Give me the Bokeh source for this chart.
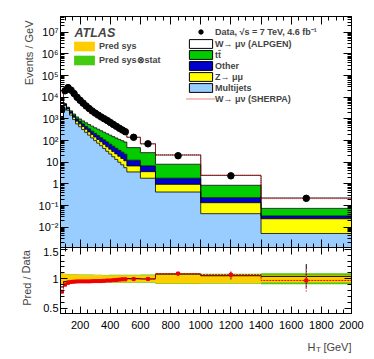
from bokeh.plotting import figure
from bokeh.layouts import column, row
from bokeh.models import (Range1d, FixedTicker, CustomJSTickFormatter, LogAxis, LinearAxis,
                          Label, Legend, LegendItem, ColumnDataSource)
from bokeh.embed import file_html
from bokeh.resources import INLINE

# ---------------- data (Events / GeV) ----------------
ht_edges = [70, 90, 110, 130, 150, 170, 190, 210, 230, 250, 270, 290, 310, 330, 350,
            370, 390, 410, 430, 450, 470, 490, 510, 600, 700, 1000, 1400, 2000]
data = [2800, 20000, 28000, 21400, 14800, 10000, 7250, 5370, 3980, 3020, 2340, 1860, 1510,
        1230, 1020, 850, 690, 560, 457, 372, 309, 257, 142, 71, 20, 2.35, 0.215]
multijet = [1000, 4170, 2510, 1510, 933, 589, 437, 324, 240, 178, 132, 100, 76, 58, 43, 32,
            24, 18, 13.5, 10, 7.6, 5.6, 3.55, 1.82, 0.42, 0.042, 0.0051]
zmumu = [150, 420, 400, 330, 260, 200, 155, 120, 94, 74, 58, 46, 37, 30, 24, 19.5, 16, 13,
         10.8, 8.9, 7.4, 6.1, 3.2, 1.85, 0.53, 0.093, 0.0194]
other = [120, 330, 340, 300, 250, 205, 170, 140, 117, 98, 82, 68, 57, 48, 40, 34, 28, 23.5,
         19.5, 16.5, 14, 11.8, 5.6, 3.08, 0.87, 0.095, 0.0082]
ttbar = [30, 120, 200, 230, 240, 240, 235, 225, 215, 205, 192, 178, 165, 150, 136, 122, 110,
         98, 88, 78, 70, 62, 35, 21, 6.25, 0.63, 0.041]
w_alpgen = [1110, 13960, 23430, 18170, 12600, 8420, 6000, 4370, 3175, 2360, 1795, 1400, 1120,
            900, 746, 617, 495, 396, 318, 255, 207, 171, 95, 43, 13.5, 1.61, 0.15]
w_sherpa = [884, 12960, 22590, 17850, 12380, 8316, 5927, 4319, 3135, 2329, 1778, 1394, 1115,
            895, 741, 617, 491, 393, 316, 253, 207, 169, 94, 43, 13.7, 1.65, 0.135]
sys_unc = [0.09, 0.08, 0.075, 0.07, 0.07, 0.07, 0.068, 0.068, 0.065, 0.065, 0.065, 0.062,
           0.062, 0.062, 0.06, 0.06, 0.06, 0.06, 0.06, 0.06, 0.06, 0.06, 0.06, 0.06, 0.08,
           0.075, 0.065]
tot_unc = [0.095, 0.085, 0.08, 0.075, 0.075, 0.075, 0.073, 0.073, 0.07, 0.07, 0.07, 0.067,
           0.067, 0.067, 0.065, 0.065, 0.066, 0.066, 0.067, 0.067, 0.068, 0.068, 0.068, 0.07,
           0.088, 0.085, 0.095]
data_stat_rel = [0.005, 0.002, 0.002, 0.002, 0.002, 0.003, 0.003, 0.004, 0.004, 0.005, 0.005,
                 0.006, 0.007, 0.008, 0.008, 0.009, 0.01, 0.011, 0.012, 0.013, 0.015, 0.016,
                 0.012, 0.016, 0.024, 0.06, 0.2]

x_major = [200, 400, 600, 800, 1000, 1200, 1400, 1600, 1800, 2000]
y_major = [1e-2, 1e-1, 1, 10, 100, 1e3, 1e4, 1e5, 1e6, 1e7]
r_major = [0.5, 1, 1.5]

FONT = "Liberation Sans"
C_MJ, C_Z, C_OTH, C_TT, C_W = "#99ccff", "#ffff00", "#0000cc", "#00cc00", "#ffffff"
C_SYS, C_TOT = "#ffcc00", "#44cc11"

n = len(data)
centers = [(ht_edges[i] + ht_edges[i + 1]) / 2 for i in range(n)]
b1 = list(multijet)
b2 = [a + b for a, b in zip(b1, zmumu)]
b3 = [a + b for a, b in zip(b2, other)]
b4 = [a + b for a, b in zip(b3, ttbar)]
b5 = [a + b for a, b in zip(b4, w_alpgen)]
sh = [a + b for a, b in zip(b4, w_sherpa)]
ratio_a = [p / d for p, d in zip(b5, data)]
ratio_s = [p / d for p, d in zip(sh, data)]


def ext(a):
    return list(a) + [a[-1]]


x_range = Range1d(70, 2000)
x_minor = list(range(50, 2050, 50))
y_minor = [m * 10.0 ** k for k in range(-4, 8) for m in range(2, 10)]
r_minor = [round(0.4 + 0.1 * i, 2) for i in range(13)]

blank = CustomJSTickFormatter(code="return '';")
logfmt = CustomJSTickFormatter(code="""
const e = Math.round(Math.log10(tick));
if (e == 0) return "1";
if (e == 1) return "10";
const sup = {"-":"\u207b","0":"\u2070","1":"\u00b9","2":"\u00b2","3":"\u00b3","4":"\u2074",
             "5":"\u2075","6":"\u2076","7":"\u2077","8":"\u2078","9":"\u2079"};
return "10" + String(e).split("").map(c => sup[c]).join("");
""")
numfmt = CustomJSTickFormatter(code="return String(tick);")


def style_axis(ax, maj=8, mnr=4, labels=True):
    ax.major_tick_in = maj
    ax.major_tick_out = 0
    ax.minor_tick_in = mnr
    ax.minor_tick_out = 0
    ax.axis_line_color = "black"
    ax.major_tick_line_color = "black"
    ax.minor_tick_line_color = "black"
    if labels:
        ax.major_label_text_font = FONT
        ax.major_label_text_font_size = "11px"
        ax.major_label_text_color = "black"
        ax.major_label_standoff = 2
    else:
        ax.major_label_text_font_size = "0px"
        ax.major_label_standoff = 0


PL = 34          # width of the strip holding the vertical axis titles
LB = 60 - PL     # left border of the panels (tick labels)
# ---------------- main panel ----------------
p1 = figure(x_range=x_range, y_range=Range1d(1.15e-3, 5.4e7), y_axis_type="log",
            frame_width=291, frame_height=231, min_border_left=LB, min_border_right=15,
            min_border_top=16, min_border_bottom=0, output_backend="svg",
            toolbar_location=None, outline_line_color="black")
p1.grid.visible = False

floor = [1e-5] * (n + 1)
p1.varea_step(x=ht_edges, y1=floor, y2=ext(b1), step_mode="after", fill_color=C_MJ)
p1.varea_step(x=ht_edges, y1=ext(b1), y2=ext(b2), step_mode="after", fill_color=C_Z)
p1.varea_step(x=ht_edges, y1=ext(b2), y2=ext(b3), step_mode="after", fill_color=C_OTH)
p1.varea_step(x=ht_edges, y1=ext(b3), y2=ext(b4), step_mode="after", fill_color=C_TT)
p1.varea_step(x=ht_edges, y1=ext(b4), y2=ext(b5), step_mode="after", fill_color=C_W)
for b in (b1, b2, b3, b4, b5):
    p1.step(x=ht_edges, y=ext(b), mode="after", line_color="black", line_width=0.8)
r_sh = p1.step(x=[ht_edges[0]] + ht_edges, y=[floor[0]] + ext(sh), mode="after",
               line_color="#dd0000", line_width=1, line_dash="1 1")
r_data = p1.scatter(x=centers, y=data, size=6.5, fill_color="black", line_color="black")

p1.yaxis.ticker = FixedTicker(ticks=y_major, minor_ticks=y_minor)
p1.yaxis.formatter = logfmt
style_axis(p1.yaxis[0])
p1.xaxis.ticker = FixedTicker(ticks=x_major, minor_ticks=x_minor)
p1.xaxis.formatter = blank
style_axis(p1.xaxis[0], labels=False)
ra = LogAxis(ticker=FixedTicker(ticks=y_major, minor_ticks=y_minor), formatter=blank)
style_axis(ra, labels=False)
p1.add_layout(ra, "right")
ta = LinearAxis(ticker=FixedTicker(ticks=x_major, minor_ticks=x_minor), formatter=blank)
style_axis(ta, labels=False)
p1.add_layout(ta, "above")

nan = float("nan")
dummy = ColumnDataSource(dict(left=[nan], right=[nan], top=[nan], bottom=[nan]))


def swatch(fig, color, line="black"):
    return fig.quad(left="left", right="right", top="top", bottom="bottom", source=dummy,
                    fill_color=color, line_color=line, line_width=1)


sw_w = swatch(p1, C_W)
sw_tt = swatch(p1, C_TT)
sw_oth = swatch(p1, C_OTH)
sw_z = swatch(p1, C_Z)
sw_mj = swatch(p1, C_MJ)
sw_sys = swatch(p1, C_SYS, None)
sw_tot = swatch(p1, C_TOT, None)

leg_r = Legend(items=[
    LegendItem(label="Data, \u221as = 7 TeV, 4.6 fb\u207b\u00b9", renderers=[r_data]),
    LegendItem(label="W\u2192 \u03bc\u03bd (ALPGEN)", renderers=[sw_w]),
    LegendItem(label="tt\u0304", renderers=[sw_tt]),
    LegendItem(label="Other", renderers=[sw_oth]),
    LegendItem(label="Z\u2192 \u03bc\u03bc", renderers=[sw_z]),
    LegendItem(label="Multijets", renderers=[sw_mj]),
    LegendItem(label="W\u2192 \u03bc\u03bd (SHERPA)", renderers=[r_sh]),
], location=(126, 143))
leg_l = Legend(items=[
    LegendItem(label="Pred sys", renderers=[sw_sys]),
    LegendItem(label="Pred sys\u2297stat", renderers=[sw_tot]),
], location=(11, 181))
for lg, gw, gh, sp, so in ((leg_r, 29, 11, 0, 0), (leg_l, 26, 12, 2, 2)):
    lg.background_fill_alpha = 0
    lg.border_line_color = None
    lg.padding = 0
    lg.margin = 0
    lg.spacing = sp
    lg.glyph_width = gw
    lg.glyph_height = gh
    lg.label_height = gh
    lg.label_standoff = so
    lg.label_text_font = FONT
    lg.label_text_font_style = "bold"
    lg.label_text_font_size = "9px"
    lg.label_text_baseline = "middle"
    p1.add_layout(lg)

p1.add_layout(Label(x=14, y=215, x_units="screen", y_units="screen", text="ATLAS",
                    text_font=FONT, text_font_style="bold italic", text_font_size="12.5px",
                    text_baseline="middle"))

# ---------------- ratio panel ----------------
p2 = figure(x_range=x_range, y_range=Range1d(0.41, 1.53),
            frame_width=291, frame_height=66, min_border_left=LB, min_border_right=15,
            min_border_top=0, min_border_bottom=22, output_backend="svg",
            toolbar_location=None, outline_line_color="black")
p2.grid.visible = False
p2.varea_step(x=ht_edges, y1=ext([1 - t for t in tot_unc]), y2=ext([1 + t for t in tot_unc]),
              step_mode="after", fill_color=C_TOT)
p2.varea_step(x=ht_edges, y1=ext([1 - s for s in sys_unc]), y2=ext([1 + s for s in sys_unc]),
              step_mode="after", fill_color=C_SYS)
p2.step(x=ht_edges, y=ext(ratio_a), mode="after", line_color="black", line_width=1)
p2.segment(x0=centers, x1=centers, y0=[r * (1 - e) for r, e in zip(ratio_a, data_stat_rel)],
           y1=[r * (1 + e) for r, e in zip(ratio_a, data_stat_rel)], line_color="black",
           line_width=1)
p2.step(x=ht_edges, y=ext(ratio_s), mode="after", line_color="#ee0000", line_width=1,
        line_dash="2 1")
p2.segment(x0=centers, x1=centers, y0=[r * (1 - e) for r, e in zip(ratio_s, data_stat_rel)],
           y1=[r * (1 + e) for r, e in zip(ratio_s, data_stat_rel)], line_color="#ff6666",
           line_width=1, line_dash="2 1")
p2.scatter(x=centers, y=ratio_s, marker="square", size=3, fill_color="#ee0000",
           line_color="#ee0000")

p2.yaxis.ticker = FixedTicker(ticks=r_major, minor_ticks=r_minor)
p2.yaxis.formatter = numfmt
style_axis(p2.yaxis[0], maj=7, mnr=4)
p2.xaxis.ticker = FixedTicker(ticks=x_major, minor_ticks=x_minor)
p2.xaxis.formatter = numfmt
style_axis(p2.xaxis[0], maj=7, mnr=4)
p2.xaxis.major_label_standoff = 7
ra2 = LinearAxis(ticker=FixedTicker(ticks=r_major, minor_ticks=r_minor), formatter=blank)
style_axis(ra2, maj=7, mnr=4, labels=False)
p2.add_layout(ra2, "right")
ta2 = LinearAxis(ticker=FixedTicker(ticks=x_major, minor_ticks=x_minor), formatter=blank)
style_axis(ta2, maj=7, mnr=4, labels=False)
p2.add_layout(ta2, "above")

# ---------------- x-axis title strip (frame aligned with the panels) ----------------
H3 = 18
p3 = figure(width=LB + 291 + 15, height=H3, x_range=Range1d(0, 1), y_range=Range1d(0, 1),
            min_border_left=LB, min_border_right=15, min_border_top=0, min_border_bottom=0,
            output_backend="svg", toolbar_location=None, outline_line_color=None,
            x_axis_location=None, y_axis_location=None)
p3.grid.visible = False
p3.add_layout(Label(x=291, y=7, x_units="screen", y_units="screen", text="[GeV]",
                    text_align="right", text_baseline="alphabetic",
                    text_font=FONT, text_font_size="11px"))
p3.add_layout(Label(x=255, y=7, x_units="screen", y_units="screen", text="H",
                    text_align="right", text_baseline="alphabetic",
                    text_font=FONT, text_font_size="11px"))
p3.add_layout(Label(x=255.5, y=4, x_units="screen", y_units="screen", text="T",
                    text_align="left", text_baseline="alphabetic",
                    text_font=FONT, text_font_size="8px"))

# ---------------- y-axis title strip ----------------
H_TOTAL = (16 + 231) + (66 + 22) + H3
pl = figure(width=PL, height=H_TOTAL, x_range=Range1d(0, 1), y_range=Range1d(0, 1),
            min_border=0, output_backend="svg", toolbar_location=None,
            outline_line_color=None, x_axis_location=None, y_axis_location=None)
pl.grid.visible = False
pl.add_layout(Label(x=28, y=H_TOTAL - 20, x_units="screen", y_units="screen",
                    text="Events / GeV", angle=1.5708, text_align="right",
                    text_baseline="middle", text_font=FONT, text_font_size="11px"))
pl.add_layout(Label(x=26, y=H_TOTAL - 277.5, x_units="screen", y_units="screen",
                    text="Pred / Data", angle=1.5708, text_align="center",
                    text_baseline="middle", text_font=FONT, text_font_size="11px"))

layout = row(pl, column(p1, p2, p3, spacing=0), spacing=0)
open("out.html", "w").write(file_html(layout, INLINE))
